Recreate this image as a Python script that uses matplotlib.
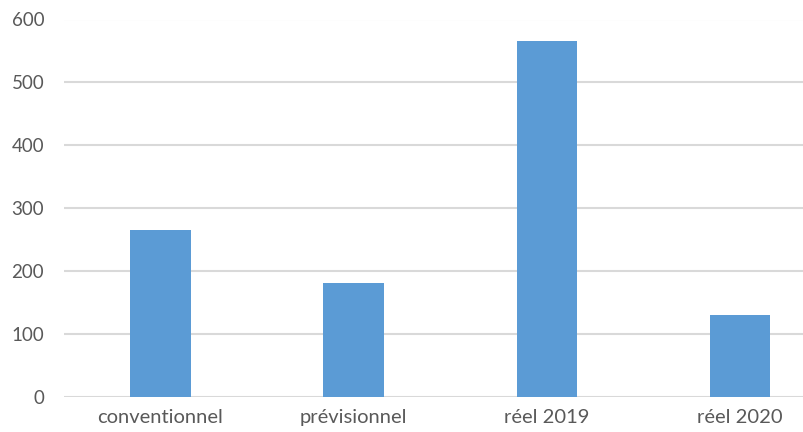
import matplotlib
matplotlib.use('Agg')
import matplotlib.pyplot as plt
import numpy as np

categories = ['conventionnel', 'prévisionnel', 'réel 2019', 'réel 2020']
values = [265, 181, 565, 130]
yticks = [0, 100, 200, 300, 400, 500, 600]

plt.rcParams['font.family'] = ['Lato', 'DejaVu Sans']

fig = plt.figure(figsize=(8.04, 4.32), dpi=100)
# plot area runs off the right edge of the picture, like the cropped original
ax = fig.add_axes([63.6 / 804, 1 - 396.5 / 432, 773.2 / 804, 377 / 432])

x = np.arange(len(categories))
ax.bar(x, values, width=0.313, color='#5b9bd5', zorder=3)

ax.set_xlim(-0.5, len(categories) - 0.5)
ax.set_ylim(0, 600)
ax.set_yticks(yticks)
ax.set_xticks(x)
ax.set_xticklabels(categories)

ax.grid(axis='y', color='#d9d9d9', linewidth=1.5, zorder=0)
for s in ax.spines.values():
    s.set_visible(False)
ax.tick_params(axis='both', length=0, labelcolor='#595959')
ax.tick_params(axis='x', pad=9, labelsize=14.5)
ax.tick_params(axis='y', pad=14, labelsize=13.5)

fig.savefig('out.png', dpi=100)
